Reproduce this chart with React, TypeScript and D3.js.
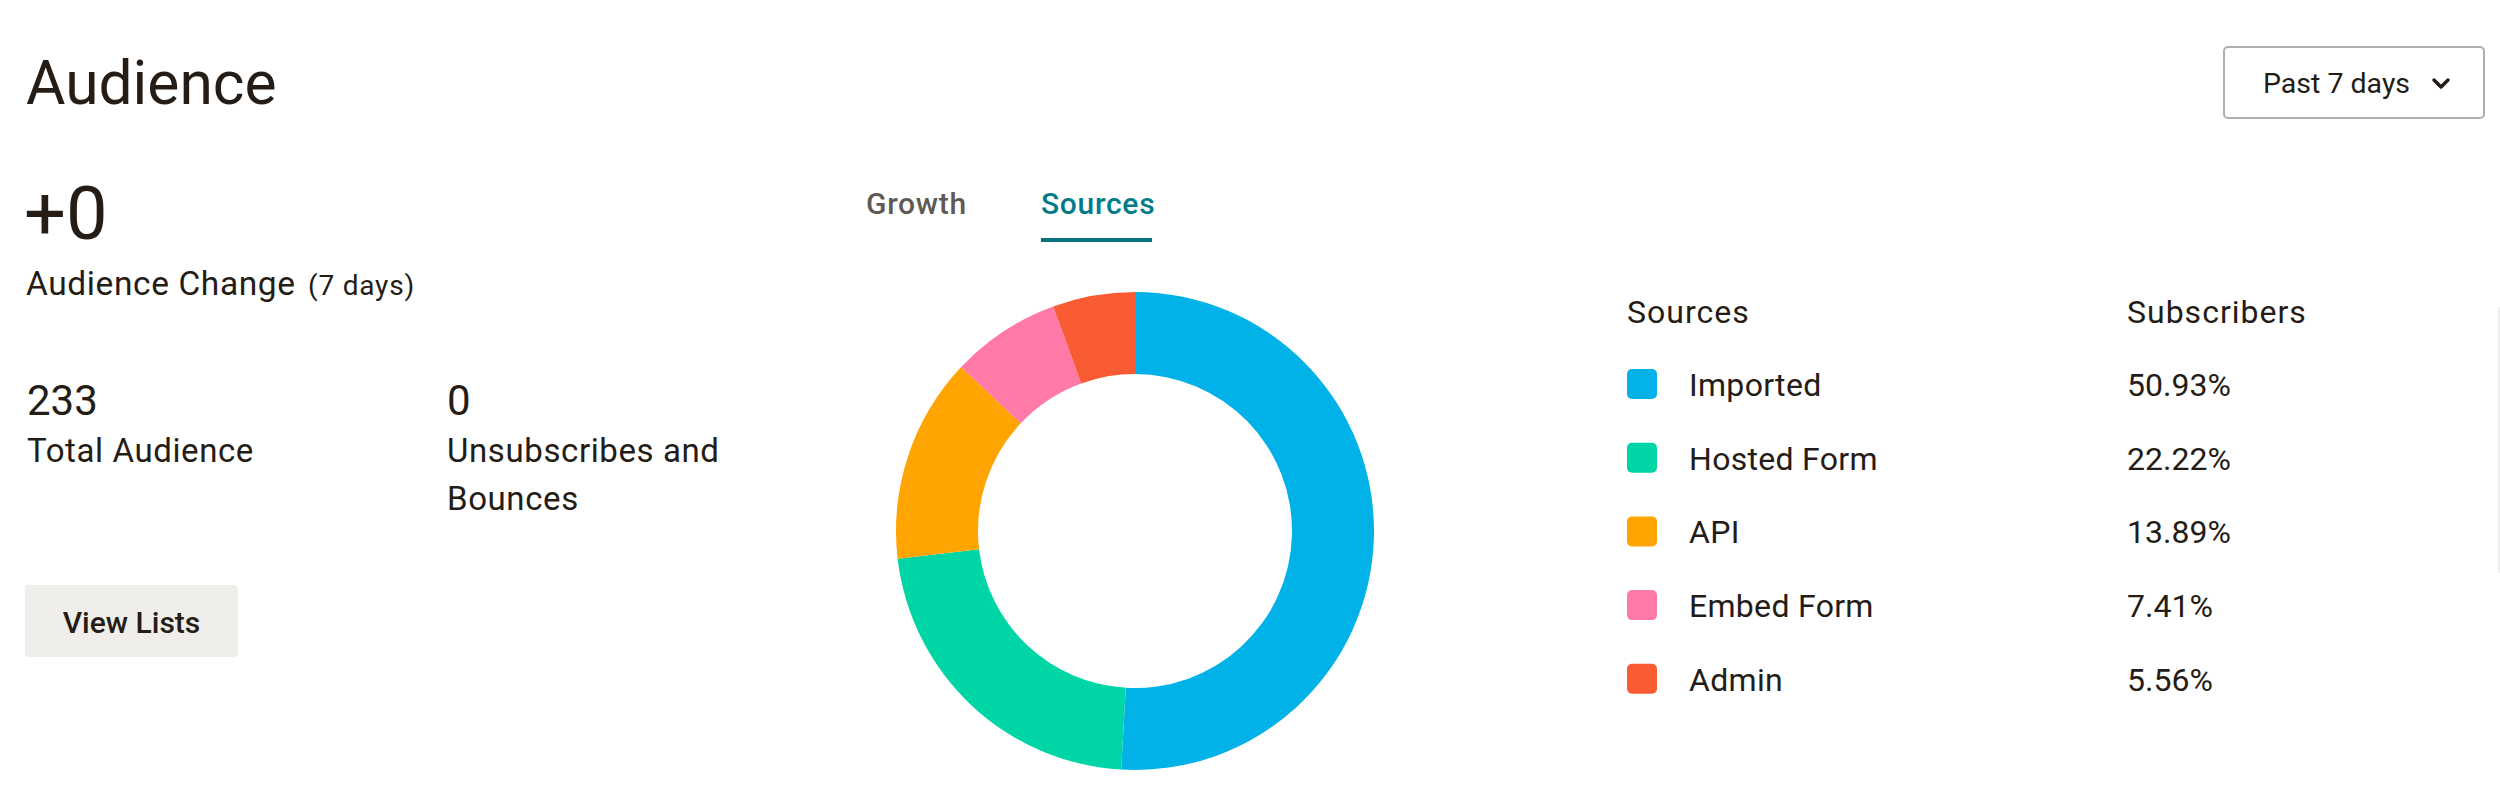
import React from "react";
import * as d3 from "d3";

const sources = ["Imported", "Hosted Form", "API", "Embed Form", "Admin"];
const shares = [50.93, 22.22, 13.89, 7.41, 5.56];
const sourceColors = ["#00b2e8", "#00d5a6", "#ffa400", "#ff7aa6", "#f95c33"];

const statValues = ["233", "0"];
const statLabels = [["Total Audience"], ["Unsubscribes and", "Bounces"]];
const tabs = ["Growth", "Sources"];

const W = 2500;
const H = 798;
const FONT = "Roboto, 'Liberation Sans', Arial, sans-serif";
const INK = "#241c15";
const TEAL = "#007c89";

export default function App() {
  const cx = 1135;
  const cy = 531;
  const rOuter = 239;
  const rInner = 157;

  const pie = d3.pie<number>().sort(null).value((d) => d);
  const arcs = pie(shares);
  const arc = d3.arc<d3.PieArcDatum<number>>().innerRadius(rInner).outerRadius(rOuter);

  const rowY = d3.scaleLinear().domain([0, 1]).range([369, 369 + 73.7]);
  const fmt = d3.format(".2f");

  const statX = d3.scaleOrdinal<number, number>().domain([0, 1]).range([27, 447]);
  const tabX = [866, 1041];

  return (
    <svg
      width={W}
      height={H}
      viewBox={`0 0 ${W} ${H}`}
      style={{ position: "absolute", left: 0, top: 0, background: "#fff" }}
      fontFamily={FONT}
    >
      <rect x={0} y={0} width={W} height={H} fill="#fff" />
      {/* Title */}
      <text x={26} y={104} fontSize={60.5} fill={INK}>
        Audience
      </text>

      {/* Dropdown */}
      <rect x={2224} y={47} width={260} height={71} rx={4} fill="#fff" stroke="#b3aeaa" strokeWidth={2} />
      <text x={2263} y={93} fontSize={28.5} fill={INK}>
        Past 7 days
      </text>
      <path d="M2434,80 L2441,87 L2448,80" fill="none" stroke={INK} strokeWidth={3.5} strokeLinecap="round" strokeLinejoin="round" />

      {/* Audience change */}
      <text x={24} y={239} fontSize={74} fill={INK}>
        +0
      </text>
      <text x={26} y={295} fontSize={33.5} letterSpacing={0.6} fill={INK}>
        Audience Change
      </text>
      <text x={308} y={295} fontSize={28} letterSpacing={0.8} fill={INK}>
        (7 days)
      </text>

      {/* Stats */}
      {statValues.map((v, i) => (
        <g key={v + i}>
          <text x={statX(i)} y={415} fontSize={42} fill={INK}>
            {v}
          </text>
          {statLabels[i].map((l, j) => (
            <text key={l} x={statX(i)} y={462 + j * 48} fontSize={33} letterSpacing={0.6} fill={INK}>
              {l}
            </text>
          ))}
        </g>
      ))}

      {/* Button */}
      <rect x={25} y={585} width={213} height={72} rx={4} fill="#efeeea" />
      <text x={131.5} y={633} fontSize={30} fontWeight={500} fill={INK} textAnchor="middle">
        View Lists
      </text>

      {/* Tabs */}
      {tabs.map((t, i) => (
        <text
          key={t}
          x={tabX[i]}
          y={214}
          fontSize={30}
          fontWeight={500}
          letterSpacing={0.7}
          fill={i === 1 ? TEAL : "#5f5a56"}
        >
          {t}
        </text>
      ))}
      <rect x={1041} y={238} width={111} height={4} fill="#007480" />

      {/* Donut */}
      <g transform={`translate(${cx},${cy})`}>
        {arcs.map((a, i) => (
          <path key={sources[i]} d={arc(a) || ""} fill={sourceColors[i]} />
        ))}
      </g>

      {/* Legend table */}
      <text x={1627} y={323} fontSize={32} letterSpacing={1} fill={INK}>
        Sources
      </text>
      <text x={2127} y={323} fontSize={32} letterSpacing={1} fill={INK}>
        Subscribers
      </text>
      {sources.map((s, i) => {
        const y = rowY(i);
        return (
          <g key={s}>
            <rect x={1627} y={y} width={30} height={30} rx={5} fill={sourceColors[i]} />
            <text x={1689} y={y + 27} fontSize={32} letterSpacing={0.3} fill={INK}>
              {s}
            </text>
            <text x={2127} y={y + 27} fontSize={32} fill={INK}>
              {fmt(shares[i]) + "%"}
            </text>
          </g>
        );
      })}

      {/* faint right edge line */}
      <rect x={2498} y={307} width={2} height={266} fill="#eeeeee" />
    </svg>
  );
}
